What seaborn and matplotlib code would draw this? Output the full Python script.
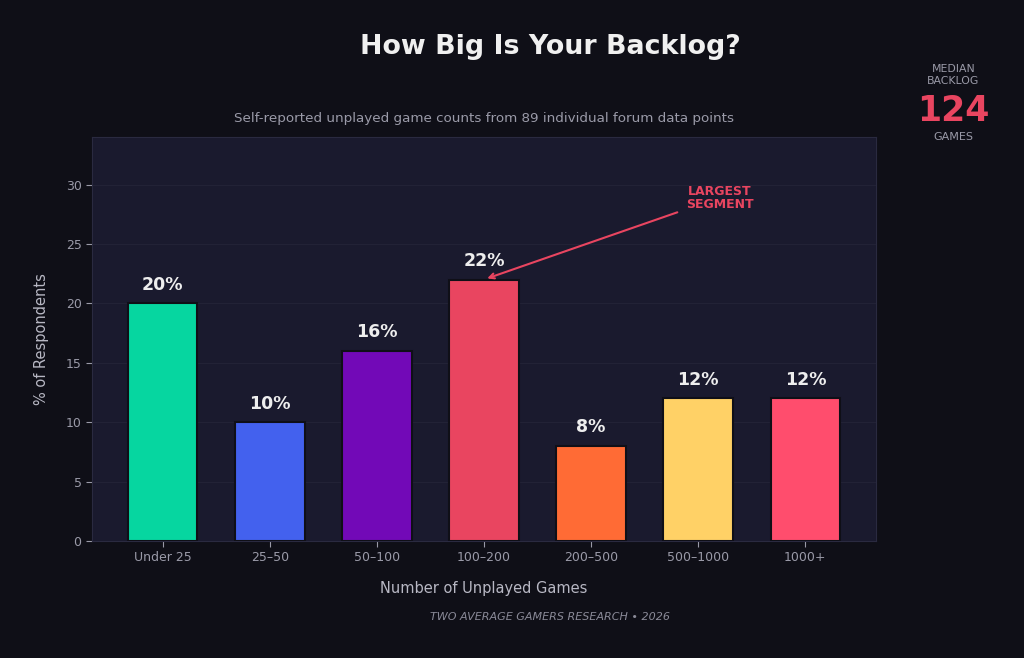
import matplotlib
matplotlib.use("Agg")
import matplotlib.pyplot as plt
import seaborn as sns
import pandas as pd

categories = ["Under 25", "25–50", "50–100", "100–200", "200–500", "500–1000", "1000+"]
values = [20, 10, 16, 22, 8, 12, 12]
colors = ["#06D6A0", "#4361EE", "#7209B7", "#E94560", "#FF6B35", "#FFD166", "#FF4D6D"]
yticks = [0, 5, 10, 15, 20, 25, 30]
median_value = 124

sns.set_theme(style="dark")
plt.rcParams['font.family'] = ['DejaVu Sans']

BG = "#0f0f17"
AX = "#1a1a2e"
TXT = "#9a9aa8"

fig = plt.figure(figsize=(10.24, 6.58), dpi=100, facecolor=BG)
ax = fig.add_axes([0.0898, 0.1778, 0.7657, 0.614])
ax.set_facecolor(AX)

df = pd.DataFrame({"cat": categories, "val": values})
sns.barplot(data=df, x="cat", y="val", hue="cat", palette=colors, legend=False,
            saturation=1, width=0.65, edgecolor="#0f0f17", linewidth=1.5, ax=ax, zorder=3)

ax.set_xlim(-0.66, 6.66)
ax.set_ylim(0, 34)
ax.set_yticks(yticks)
ax.yaxis.grid(True, color="#222236", linewidth=0.8, zorder=0)
ax.xaxis.grid(False)
for s in ax.spines.values():
    s.set_visible(True)
    s.set_color("#2a2a40")
    s.set_linewidth(0.8)

ax.tick_params(axis="both", colors=TXT, labelsize=9, length=4, width=0.8, direction="out",
               bottom=True, left=True)
for lab in ax.get_xticklabels() + ax.get_yticklabels():
    lab.set_color(TXT)

ax.set_xlabel("Number of Unplayed Games", color="#b8b8c4", fontsize=10.5, labelpad=12)
ax.set_ylabel("% of Respondents", color="#b8b8c4", fontsize=10.5, labelpad=12)

for i, v in enumerate(values):
    ax.text(i, v + 0.8, f"{v}%", ha="center", va="bottom", color="#eeeeee",
            fontsize=12.5, fontweight="bold", zorder=4)

imax = values.index(max(values))
ax.annotate("LARGEST\nSEGMENT", xy=(imax + 0.03, max(values) + 0.1), xytext=(5.2, 28.9),
            ha="center", va="center", color="#E94560", fontsize=9, fontweight="bold",
            linespacing=1.0,
            arrowprops=dict(arrowstyle="->", color="#E94560", lw=1.5,
                            shrinkA=4, shrinkB=0), zorder=5)

fig.text(0.537, 0.929, "How Big Is Your Backlog?", ha="center", va="center",
         color="#f0f0f0", fontsize=19.4, fontweight="bold")
fig.text(0.473, 0.820, "Self-reported unplayed game counts from 89 individual forum data points",
         ha="center", va="center", color=TXT, fontsize=9.7)

fig.text(0.931, 0.886, "MEDIAN\nBACKLOG", ha="center", va="center", color=TXT,
         fontsize=7.8, linespacing=1.3)
fig.text(0.931, 0.832, str(median_value), ha="center", va="center", color="#E94560",
         fontsize=25, fontweight="bold")
fig.text(0.931, 0.792, "GAMES", ha="center", va="center", color=TXT, fontsize=8)

fig.text(0.537, 0.063, "TWO AVERAGE GAMERS RESEARCH • 2026", ha="center", va="center",
         color="#8a8a98", fontsize=8, fontstyle="italic")

fig.savefig("out.png", dpi=100, facecolor=BG)
